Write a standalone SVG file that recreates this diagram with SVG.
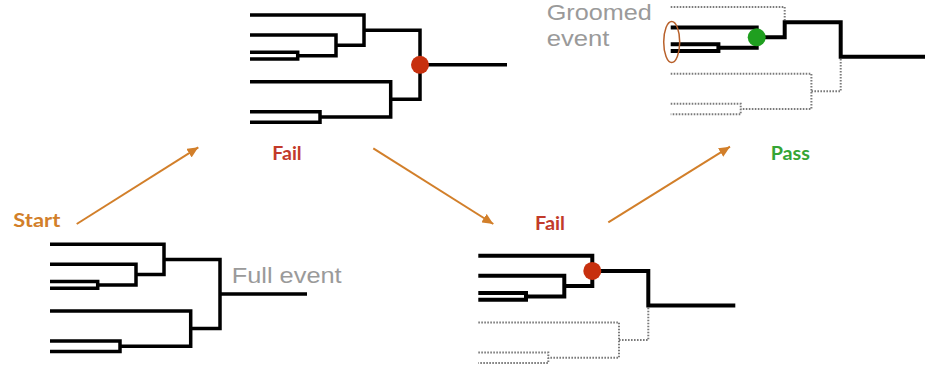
<svg xmlns="http://www.w3.org/2000/svg" width="925" height="370" viewBox="0 0 925 370">
  <style>
    .branch { fill: none; stroke: #000; stroke-width: 3.5; stroke-linejoin: miter; stroke-linecap: butt; }
    .bold { stroke-width: 4; }
    .pruned { fill: none; stroke: #7a7a7a; stroke-width: 2; stroke-dasharray: 1.6 1.4; }
    .arrow { fill: none; stroke: #d27f2a; stroke-width: 2; }
    .gray { font-family: "Liberation Sans", Arial, sans-serif; font-size: 22px; fill: #9a9a9a; }
    .status { font-family: "Lato", "Open Sans", sans-serif; font-weight: bold; font-size: 18.5px; }
    .fail { fill: #c23a2a; }
    .pass { fill: #35a535; }
    .start { fill: #d27f2a; }
    .reject { fill: #c7300e; }
    .accept { fill: #1f9f1f; }
  </style>
  <defs>
    <marker id="head" markerUnits="userSpaceOnUse" markerWidth="12" markerHeight="10" refX="11" refY="5" orient="auto">
      <path d="M0,0 L11,5 L0,10 Z" fill="#d27f2a"/>
    </marker>
  </defs>

  <!-- full clustering tree -->
  <g id="tree-full" transform="translate(50,244.3)">
    <path class="branch" d="M0,0 H114 V30.3 H86 M0,20 H86 V40.7 H47.7 M0,37.3 H47.7 V44 H0 M0,66.7 H140.7 V102 H70 M0,96.7 H70 V107.3 H0 M114,15.2 H170 V84.3 H140.7 M170,49.8 H257"/>
  </g>

  <!-- first step: root split fails -->
  <g id="tree-step1" transform="translate(250,15)">
    <path class="branch" d="M0,0 H114 V30.3 H86 M0,20 H86 V40.7 H47.7 M0,37.3 H47.7 V44 H0 M0,66.7 H140.7 V102 H70 M0,96.7 H70 V107.3 H0 M114,15.2 H170 V84.3 H140.7 M170,49.8 H257"/>
    <circle class="reject" cx="170" cy="49.8" r="9"/>
  </g>

  <!-- second step: softer branch dropped, next split fails -->
  <g id="tree-step2" transform="translate(478.3,255.7)">
    <path class="pruned" d="M0,66.7 H140.7 V102 H70 M0,96.7 H70 V107.3 H0 M140.7,84.3 H170 V51.8"/>
    <path class="branch bold" d="M0,0 H114 V30.3 H86 M0,20 H86 V40.7 H47.7 M0,37.3 H47.7 V44 H0 M114,15.2 H170 V49.8 H257"/>
    <circle class="reject" cx="114" cy="15.2" r="9"/>
  </g>

  <!-- third step: split passes, groomed event kept -->
  <g id="tree-step3" transform="translate(670.7,7)">
    <path class="pruned" d="M0,0 H114 V13.2 M0,66.7 H140.7 V102 H70 M0,96.7 H70 V107.3 H0 M140.7,84.3 H170 V51.8"/>
    <path class="branch bold" d="M0,20.5 H86 V40.7 H47.7 M0,37.3 H47.7 V44 H0 M86,30.3 H114 V15.2 H170 V49.8 H257"/>
    <circle class="accept" cx="86" cy="30.3" r="9"/>
    <ellipse cx="1" cy="35" rx="8" ry="20.5" fill="none" stroke="#b8602a" stroke-width="1.5"/>
  </g>

  <!-- labels -->
  <g id="labels">
    <text class="gray" x="546.7" y="19.5" font-size="21" textLength="105" lengthAdjust="spacingAndGlyphs">Groomed</text>
    <text class="gray" x="546.7" y="45.5" textLength="62.7" lengthAdjust="spacingAndGlyphs">event</text>
    <text class="gray" x="231.7" y="282.7" textLength="110" lengthAdjust="spacingAndGlyphs">Full event</text>
    <text class="status start" x="13.3" y="227" textLength="47" lengthAdjust="spacingAndGlyphs">Start</text>
    <text class="status fail" x="272.3" y="159.5" textLength="29.4" lengthAdjust="spacingAndGlyphs">Fail</text>
    <text class="status fail" x="535" y="230" textLength="30" lengthAdjust="spacingAndGlyphs">Fail</text>
    <text class="status pass" x="770.7" y="160" textLength="39.3" lengthAdjust="spacingAndGlyphs">Pass</text>
  </g>

  <!-- connectors -->
  <g id="connectors">
    <line class="arrow" x1="76.7" y1="224" x2="198.3" y2="147.3" marker-end="url(#head)"/>
    <line class="arrow" x1="373.3" y1="148.3" x2="493.3" y2="224" marker-end="url(#head)"/>
    <line class="arrow" x1="608.3" y1="222.3" x2="730" y2="146.7" marker-end="url(#head)"/>
  </g>
</svg>
